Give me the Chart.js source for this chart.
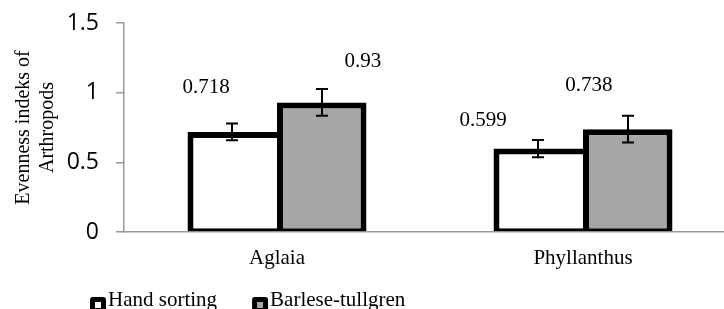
<!DOCTYPE html>
<html><head><meta charset="utf-8">
<script src="https://cdn.jsdelivr.net/npm/chart.js@4"></script>
<style>
html,body{margin:0;padding:0;background:#fff;overflow:hidden;width:724px;height:309px}
#wrap{width:724px;height:309px;overflow:hidden;position:relative}
canvas{display:block}
</style></head><body>
<div id="wrap"><canvas id="c" width="740" height="309" style="width:740px;height:309px"></canvas></div>
<script>
// ---- data ----
const categories = ['Aglaia', 'Phyllanthus'];
const seriesNames = ['Hand sorting', 'Barlese-tullgren'];
const handSorting = [0.718, 0.599];
const barleseTullgren = [0.93, 0.738];
const handSortingErr = [0.06, 0.062];
const barleseTullgrenErr = [0.096, 0.096];
const yTicks = [0, 0.5, 1, 1.5];
const yTitle = ['Evenness indeks of', 'Arthropods'];

// ---- styling / placement (not data) ----
const serif = '"Liberation Serif", "Times New Roman", serif';
const sans = '"Open Sans", "Liberation Sans", sans-serif';
const labelOffsets = [
  [{dx: -26, dy: -44}, {dx: -55, dy: -28}],
  [{dx: 41, dy: -41}, {dx: -39, dy: -44}]
];
const errors = [handSortingErr, barleseTullgrenErr];

const errorBarPlugin = {
  id: 'errorBars',
  afterDatasetsDraw(chart) {
    const {ctx, scales: {y}} = chart;
    ctx.save();
    ctx.strokeStyle = '#000';
    ctx.lineWidth = 2;
    chart.data.datasets.forEach((ds, di) => {
      const meta = chart.getDatasetMeta(di);
      meta.data.forEach((bar, i) => {
        const v = ds.data[i], e = errors[di][i];
        const x = Math.round(bar.x);
        const yt = y.getPixelForValue(v + e), yb = y.getPixelForValue(v - e);
        ctx.beginPath();
        ctx.moveTo(x, yt); ctx.lineTo(x, yb);
        ctx.moveTo(x - 6, yt); ctx.lineTo(x + 6, yt);
        ctx.moveTo(x - 6, yb); ctx.lineTo(x + 6, yb);
        ctx.stroke();
      });
    });
    ctx.restore();
  }
};

const valueLabelPlugin = {
  id: 'valueLabels',
  afterDatasetsDraw(chart) {
    const {ctx} = chart;
    ctx.save();
    ctx.font = '21px ' + serif;
    ctx.fillStyle = '#000';
    ctx.textAlign = 'center';
    ctx.textBaseline = 'middle';
    chart.data.datasets.forEach((ds, di) => {
      chart.getDatasetMeta(di).data.forEach((bar, i) => {
        const o = labelOffsets[di][i];
        ctx.fillText(String(ds.data[i]), bar.x + o.dx, bar.y + o.dy);
      });
    });
    ctx.restore();
  }
};

const legendPlugin = {
  id: 'customLegend',
  afterDraw(chart) {
    const {ctx} = chart;
    ctx.save();
    ctx.font = '21px ' + serif;
    ctx.textBaseline = 'alphabetic';
    let x = 90;
    const yBox = 297, box = 16, baseY = 306;
    chart.data.datasets.forEach((ds, di) => {
      ctx.fillStyle = '#000';
      ctx.beginPath();
      ctx.roundRect(x, yBox, box, box, 3);
      ctx.fill();
      ctx.fillStyle = ds.backgroundColor;
      ctx.fillRect(x + 5, yBox + 5, box - 10, box - 10);
      ctx.fillStyle = '#000';
      ctx.textAlign = 'left';
      ctx.fillText(ds.label, x + box + 2, baseY);
      x += box + 2 + ctx.measureText(ds.label).width + 35;
    });
    ctx.restore();
  }
};

new Chart(document.getElementById('c'), {
  type: 'bar',
  data: {
    labels: categories,
    datasets: [
      {label: seriesNames[0], data: handSorting, backgroundColor: '#ffffff', borderColor: '#000000',
       borderWidth: {top: 6, left: 6, right: 0, bottom: 3}, borderSkipped: false},
      {label: seriesNames[1], data: barleseTullgren, backgroundColor: '#a6a6a6', borderColor: '#000000',
       borderWidth: {top: 6, left: 6, right: 6, bottom: 3}, borderSkipped: false}
    ]
  },
  options: {
    responsive: false,
    animation: false,
    devicePixelRatio: 1,
    layout: {padding: {top: 23, right: 4, left: 0, bottom: 39}},
    datasets: {bar: {categoryPercentage: 0.585, barPercentage: 1}},
    plugins: {legend: {display: false}, tooltip: {enabled: false}},
    scales: {
      x: {
        grid: {display: false, drawTicks: false},
        border: {display: true, color: '#999999', width: 1.5},
        ticks: {padding: 14, color: '#000', font: {family: serif, size: 21}},
        afterFit(s) { s.height = 38; s.paddingLeft = 0; s.paddingRight = 0; }
      },
      y: {
        min: 0, max: 1.5,
        afterBuildTicks(s) { s.ticks = yTicks.map(v => ({value: v})); },
        grid: {drawOnChartArea: false, drawTicks: true, tickLength: 8, color: '#999999', lineWidth: 1.5},
        border: {display: true, color: '#999999', width: 1.5},
        ticks: {padding: 17, color: '#000', font: {family: sans, size: 23}, callback: v => String(v)},
        title: {display: true, text: yTitle, color: '#000', font: {family: serif, size: 20, lineHeight: 1.2}, padding: {top: 12, bottom: 0}},
        afterFit(s) { s.width = 124; s.paddingTop = 5; s.paddingBottom = 5; }
      }
    }
  },
  plugins: [errorBarPlugin, valueLabelPlugin, legendPlugin]
});
</script>
</body></html>
